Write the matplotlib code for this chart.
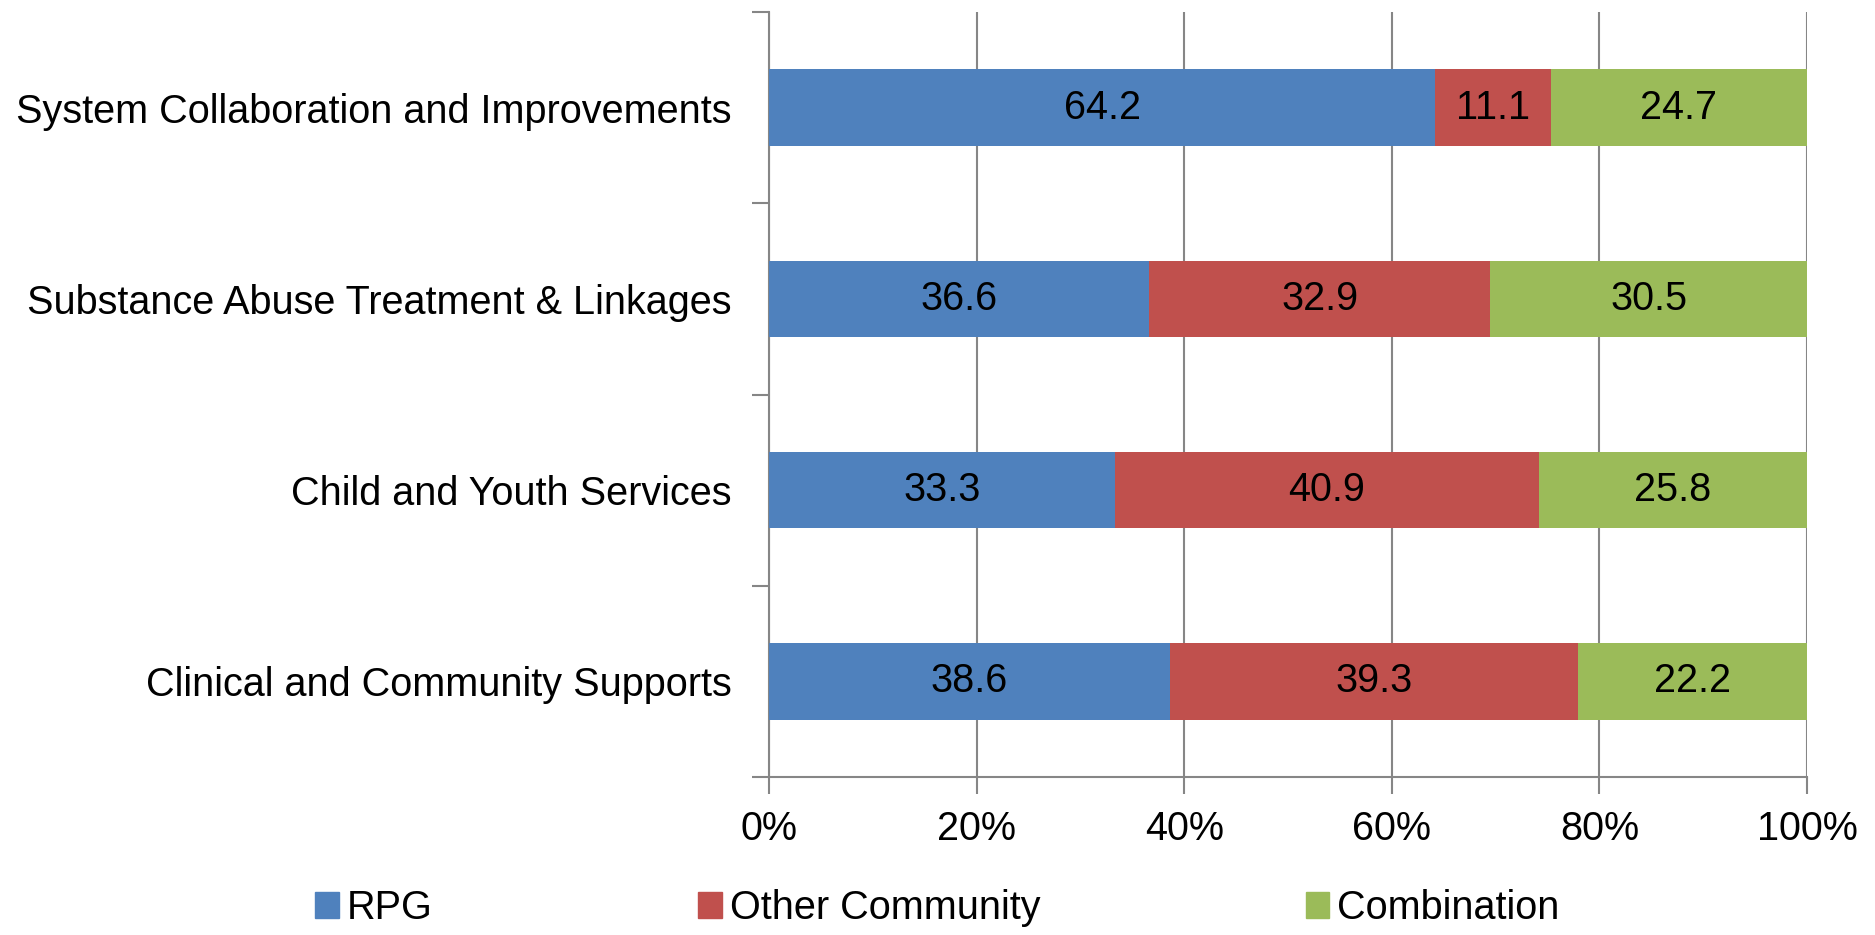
import matplotlib.pyplot as plt
from matplotlib.patches import Patch
import numpy as np

plt.rcParams['font.family'] = ['Liberation Sans', 'DejaVu Sans']

categories = ["System Collaboration and Improvements",
              "Substance Abuse Treatment & Linkages",
              "Child and Youth Services",
              "Clinical and Community Supports"]
series = ["RPG", "Other Community", "Combination"]
rpg = [64.2, 36.6, 33.3, 38.6]
other = [11.1, 32.9, 40.9, 39.3]
combo = [24.7, 30.5, 25.8, 22.2]
xticks = [0, 20, 40, 60, 80, 100]

colors = ['#4F81BD', '#C0504D', '#9BBB59']
gray = '#868686'
fs = 28.5

fig = plt.figure(figsize=(18.75, 9.35), dpi=100)
ax = fig.add_axes([769 / 1875, 1 - 777 / 935, (1807 - 769) / 1875, (777 - 12) / 935])

y = np.arange(len(categories))
left = np.zeros(len(categories))
for vals, c in zip([rpg, other, combo], colors):
    vals = np.array(vals)
    ax.barh(y, vals, left=left, height=0.4, color=c, zorder=3)
    for yi, l, v in zip(y, left, vals):
        ax.text(l + v / 2, yi, f"{v:.1f}", ha='center', va='center',
                fontsize=fs, color='black', zorder=4)
    left += vals

ax.set_xlim(0, 100)
ax.set_ylim(len(categories) - 0.5, -0.5)
ax.set_xticks(xticks)
ax.set_xticklabels([f"{t}%" for t in xticks], fontsize=fs)
ax.tick_params(axis='x', length=12, width=1.5, color=gray, pad=12)
ax.grid(axis='x', color=gray, linewidth=1.5, zorder=0)

ax.set_yticks(np.arange(-0.5, len(categories), 1.0))
ax.set_yticklabels([])
ax.tick_params(axis='y', which='major', length=12, width=1.5, color=gray)
ax.set_yticks(y, minor=True)
ax.set_yticklabels(categories, minor=True, fontsize=fs)
ax.tick_params(axis='y', which='minor', length=0, pad=27)

for s in ['top', 'right']:
    ax.spines[s].set_visible(False)
for s in ['left', 'bottom']:
    ax.spines[s].set_color(gray)
    ax.spines[s].set_linewidth(1.5)

handles = [Patch(color=c) for c in colors]
fig.legend(handles, series, loc='center', bbox_to_anchor=(0.5, 1 - 908 / 935),
           ncol=3, frameon=False, fontsize=fs, handlelength=0.6, handleheight=0.6,
           handletextpad=0.2, columnspacing=6.7, borderpad=0)

fig.savefig("out.png", dpi=100)
